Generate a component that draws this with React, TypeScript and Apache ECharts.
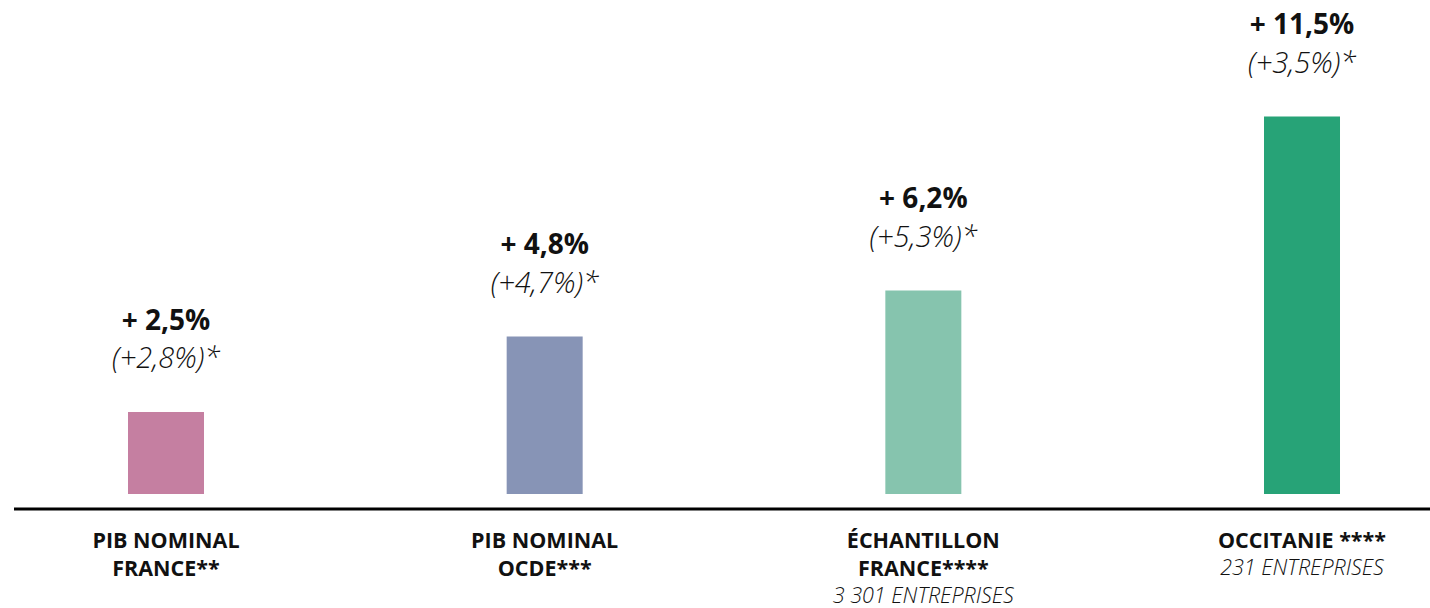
import React, { useEffect, useRef } from "react";
import * as echarts from "echarts";

const categories = ["PIB NOMINAL\nFRANCE**", "PIB NOMINAL\nOCDE***", "ÉCHANTILLON\nFRANCE****", "OCCITANIE ****"];
const subtitles = ["", "", "3 301 ENTREPRISES", "231 ENTREPRISES"];
const values = [2.5, 4.8, 6.2, 11.5];
const mainLabels = ["+ 2,5%", "+ 4,8%", "+ 6,2%", "+ 11,5%"];
const compareLabels = ["(+2,8%)*", "(+4,7%)*", "(+5,3%)*", "(+3,5%)*"];
const colors = ["#C57FA1", "#8794B6", "#86C4AE", "#27A377"];

const FONT = "'Open Sans', 'Noto Sans', sans-serif";

export default function App() {
  const ref = useRef<HTMLDivElement>(null);
  useEffect(() => {
    if (!ref.current) return;
    const chart = echarts.init(ref.current, undefined, { renderer: "svg" });
    chart.setOption({
      animation: false,
      grid: {
        left: -23.33,
        width: 1514.67,
        top: 100,
        bottom: 99,
        containLabel: false,
        outerBoundsMode: "none",
      },
      xAxis: {
        type: "category",
        data: categories,
        axisLine: { show: false },
        axisTick: { show: false },
        axisLabel: {
          interval: 0,
          margin: 16,
          formatter: (v: string, i: number) => {
            const lines = v.split("\n").map((l) => `{c|${l}}`);
            if (subtitles[i]) lines.push(`{s|${subtitles[i]}}`);
            return lines.join("\n");
          },
          rich: {
            c: { fontFamily: FONT, fontWeight: "bold", fontSize: 21.5, color: "#111", lineHeight: 28 },
            s: { fontFamily: FONT, fontStyle: "italic", fontWeight: 300, fontSize: 21.5, color: "#111", lineHeight: 26 },
          },
          verticalAlign: "top",
        },
      },
      yAxis: { type: "value", min: -0.457, max: 12, show: false, splitLine: { show: false } },
      series: [
        {
          type: "bar",
          barWidth: 76,
          data: values.map((v, i) => ({ value: v, itemStyle: { color: colors[i] } })),
          label: {
            show: true,
            position: "top",
            distance: 36,
            formatter: (p: any) => `{a|${mainLabels[p.dataIndex]}}\n{b|${compareLabels[p.dataIndex]}}`,
            rich: {
              a: { fontFamily: FONT, fontWeight: "bold", fontSize: 28, color: "#111", lineHeight: 38 },
              b: { fontFamily: FONT, fontStyle: "italic", fontWeight: 300, fontSize: 29, color: "#111", lineHeight: 38 },
            },
          },
        },
      ],
      graphic: [
        {
          type: "line",
          shape: { x1: 14, y1: 509, x2: 1430, y2: 509 },
          style: { stroke: "#000", lineWidth: 3 },
        },
      ],
    });
    return () => chart.dispose();
  }, []);
  return (
    <div
      ref={ref}
      style={{ position: "fixed", left: 0, top: 0, width: 1430, height: 608, background: "#fff" }}
    />
  );
}
